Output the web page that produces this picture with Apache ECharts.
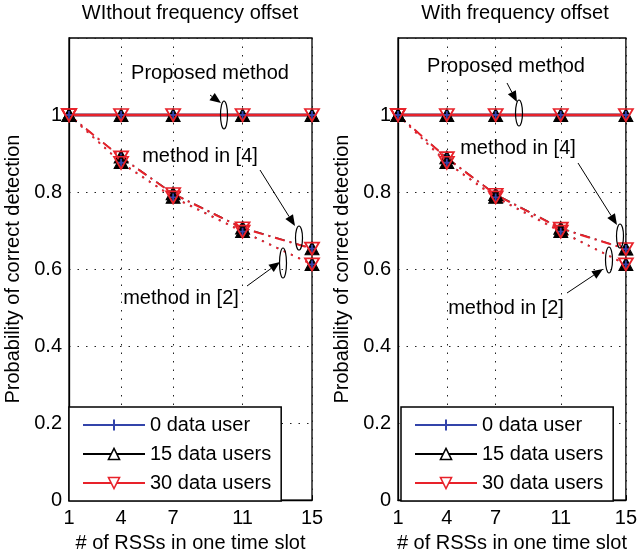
<!DOCTYPE html>
<html>
<head>
<meta charset="utf-8">
<script src="https://cdn.jsdelivr.net/npm/echarts@6/dist/echarts.min.js"></script>
<style>
html, body { margin: 0; padding: 0; background: #fff; }
#main { width: 640px; height: 558px; }
</style>
</head>
<body>
<div id="main"></div>
<script>
// x axis: number of RSSs in one time slot
const xCats = ['1','2','3','4','5','6','7','8','9','10','11','12','13','14','15'];
const rssCounts = [1, 4, 7, 11, 15];
const xTicks = [1, 4, 7, 11, 15];
const userNames = ['0 data user', '15 data users', '30 data users'];
const panelTitles = ['WIthout frequency offset', 'With frequency offset'];

// without frequency offset
const woProp0 = [1, 1, 1, 1, 1];
const woProp15 = [1, 1, 1, 1, 1];
const woProp30 = [1, 1, 1, 1, 1];
const woRef4_0 = [1, 0.89, 0.795, 0.706, 0.653];
const woRef4_15 = [1, 0.892, 0.797, 0.708, 0.654];
const woRef4_30 = [1, 0.89, 0.795, 0.706, 0.653];
const woRef2_0 = [1, 0.876, 0.786, 0.697, 0.612];
const woRef2_15 = [1, 0.878, 0.788, 0.699, 0.613];
const woRef2_30 = [1, 0.876, 0.786, 0.697, 0.612];

// with frequency offset
const wProp0 = [1, 1, 1, 1, 1];
const wProp15 = [1, 1, 1, 1, 1];
const wProp30 = [1, 1, 1, 1, 1];
const wRef4_0 = [1, 0.888, 0.793, 0.705, 0.652];
const wRef4_15 = [1, 0.89, 0.795, 0.707, 0.653];
const wRef4_30 = [1, 0.888, 0.793, 0.705, 0.652];
const wRef2_0 = [1, 0.876, 0.786, 0.697, 0.612];
const wRef2_15 = [1, 0.878, 0.788, 0.699, 0.613];
const wRef2_30 = [1, 0.876, 0.786, 0.697, 0.612];

const panels = [
    { prop: [woProp0, woProp15, woProp30], ref4: [woRef4_0, woRef4_15, woRef4_30], ref2: [woRef2_0, woRef2_15, woRef2_30] },
    { prop: [wProp0, wProp15, wProp30], ref4: [wRef4_0, wRef4_15, wRef4_30], ref2: [wRef2_0, wRef2_15, wRef2_30] }
];

const BLUE = '#3344aa', RED = '#e8222a';
const FONT = '"Liberation Sans", Arial, sans-serif';
const plusPath = 'path://M5,0L5,10M0,5L10,5';
const downTri = 'path://M0,0L10,0L5,9Z';

const userStyle = [
    { color: BLUE, symbol: plusPath, size: 8, item: { color: BLUE, borderColor: BLUE, borderWidth: 1.8 } },
    { color: '#000', symbol: 'triangle', size: [14, 13], item: { color: '#000', borderColor: '#000', borderWidth: 1 } },
    { color: RED, symbol: downTri, size: [14, 12], item: { color: 'rgba(255,255,255,0)', borderColor: RED, borderWidth: 1.8 } }
];
const methodDash = { prop: 'solid', ref4: [10, 5, 2, 5], ref2: [2, 6] };
const drawOrder = [1, 0, 2]; // black, blue, red on top

const series = [];
panels.forEach((p, g) => {
    ['prop', 'ref4', 'ref2'].forEach(m => {
        drawOrder.forEach(u => {
            const st = userStyle[u];
            // red is drawn last; the other dashed curves sit thinly under it
            const w = m === 'prop' ? 2.4 : (u === 2 ? 2 : 0.8);
            series.push({
                name: userNames[u],
                type: 'line',
                xAxisIndex: g,
                yAxisIndex: g,
                data: rssCounts.map((x, i) => [String(x), p[m][u][i]]),
                symbol: st.symbol,
                symbolSize: st.size,
                showSymbol: true,
                showAllSymbol: true,
                lineStyle: { color: st.color, width: w, type: methodDash[m] },
                itemStyle: st.item,
                silent: true
            });
        });
    });
});

const isTick = (idx, val) => xTicks.indexOf(Number(val)) >= 0;
const dotted = { color: '#222', width: 1, type: [1.5, 7] };

function xAxis(g) {
    return {
        type: 'category', gridIndex: g, data: xCats, boundaryGap: false,
        name: '# of RSSs in one time slot', nameLocation: 'middle', nameGap: 32,
        nameTextStyle: { fontSize: 20, color: '#000', fontFamily: FONT },
        axisLine: { lineStyle: { color: '#000', width: 1.3 } },
        axisTick: { inside: true, length: 5, interval: isTick, lineStyle: { color: '#000' } },
        axisLabel: { interval: isTick, fontSize: 20, color: '#000', fontFamily: FONT, margin: 8 },
        splitLine: { show: true, interval: isTick, lineStyle: dotted }
    };
}
function yAxis(g) {
    return {
        type: 'value', gridIndex: g, min: 0, max: 1.2, interval: 0.2,
        name: 'Probability of correct detection', nameLocation: 'middle', nameGap: 46,
        nameTextStyle: { fontSize: 20, color: '#000', fontFamily: FONT },
        axisLine: { show: true, lineStyle: { color: '#000', width: 1.3 } },
        axisTick: { inside: true, length: 5, lineStyle: { color: '#000' } },
        axisLabel: {
            fontSize: 20, color: '#000', fontFamily: FONT, margin: 7,
            formatter: v => (v > 1.05 ? '' : String(Math.round(v * 10) / 10))
        },
        splitLine: { show: true, lineStyle: dotted }
    };
}
function legend(left) {
    return {
        orient: 'vertical', left: left, bottom: 57,
        itemWidth: 62, itemHeight: 14, itemGap: 7,
        padding: [7, 10, 7, 13],
        backgroundColor: '#fff', borderColor: '#000', borderWidth: 1.5, borderRadius: 0,
        textStyle: { fontSize: 20, color: '#000', fontFamily: FONT, lineHeight: 22 },
        selectedMode: false,
        data: [
            { name: userNames[0] },
            { name: userNames[1], itemStyle: { color: '#fff', borderColor: '#000', borderWidth: 1.5 } },
            { name: userNames[2], itemStyle: { color: '#fff', borderColor: RED, borderWidth: 1.5 } }
        ]
    };
}

// annotation helpers (pixel positions of arrows, ovals and notes)
function arrow(x1, y1, x2, y2) {
    const a = Math.atan2(y2 - y1, x2 - x1), L = 11, W = 4.5;
    const bx = x2 - L * Math.cos(a), by = y2 - L * Math.sin(a);
    return [
        { type: 'line', shape: { x1: x1, y1: y1, x2: bx, y2: by }, style: { stroke: '#000', lineWidth: 1 }, z: 100 },
        { type: 'polygon', shape: { points: [[x2, y2],
            [bx + W * Math.sin(a), by - W * Math.cos(a)],
            [bx - W * Math.sin(a), by + W * Math.cos(a)]] }, style: { fill: '#000' }, z: 100 }
    ];
}
function oval(cx, cy, ry) {
    return { type: 'ellipse', shape: { cx: cx, cy: cy, rx: 3.5, ry: ry }, style: { fill: 'none', stroke: '#000', lineWidth: 1.2 }, z: 100 };
}
function note(text, x, y) {
    return { type: 'text', x: x, y: y, z: 100,
        style: { text: text, fontSize: 20, fontFamily: FONT, fill: '#000', align: 'center', verticalAlign: 'middle' } };
}

const graphics = [
    note('Proposed method', 210, 73), ...arrow(210, 95, 221, 103), oval(224, 115, 14),
    note('method in [4]', 200, 156), ...arrow(260, 170, 295, 226), oval(299, 238, 12),
    note('method in [2]', 181, 298), ...arrow(247, 286, 280, 262), oval(283, 263, 15),
    note('Proposed method', 506, 66), ...arrow(507, 83, 517, 102), oval(519, 113, 13),
    note('method in [4]', 518, 148), ...arrow(578, 163, 617, 225), oval(620, 236, 12),
    note('method in [2]', 506, 308), ...arrow(567, 293, 603, 269), oval(609, 260, 13)
];

const myChart = echarts.init(document.getElementById('main'));
myChart.setOption({
    animation: false,
    backgroundColor: '#fff',
    title: [
        { text: panelTitles[0], left: 190, top: 3, textAlign: 'center', padding: 0,
          textStyle: { fontSize: 20, fontWeight: 'normal', color: '#000', fontFamily: FONT } },
        { text: panelTitles[1], left: 515, top: 3, textAlign: 'center', padding: 0,
          textStyle: { fontSize: 20, fontWeight: 'normal', color: '#000', fontFamily: FONT } }
    ],
    grid: [
        { left: 69, right: 328, top: 38, bottom: 57, show: true, borderColor: '#000', borderWidth: 1.3, backgroundColor: '#fff' },
        { left: 398, right: 8, top: 38, bottom: 57, show: true, borderColor: '#000', borderWidth: 1.3, backgroundColor: '#fff' }
    ],
    xAxis: [xAxis(0), xAxis(1)],
    yAxis: [yAxis(0), yAxis(1)],
    legend: [legend(69), legend(401)],
    series: series,
    graphic: graphics
});
</script>
</body>
</html>
